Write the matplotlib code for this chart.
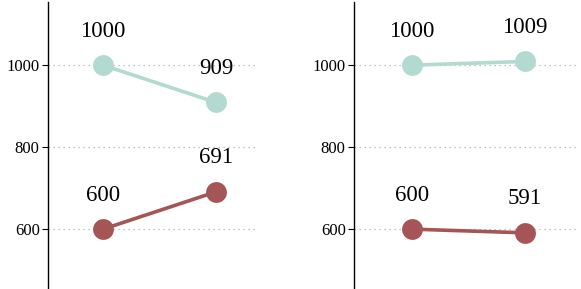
import matplotlib
matplotlib.use("Agg")
import matplotlib.pyplot as plt

plt.rcParams['font.family'] = ['Liberation Serif', 'DejaVu Serif']

positions = [0, 1]
left_top = [1000, 909]
left_bottom = [600, 691]
right_top = [1000, 1009]
right_bottom = [600, 591]
yticks = [600, 800, 1000]

teal = '#b3dad0'
red = '#a55555'

W, H = 581, 289
fig = plt.figure(figsize=(W / 100, H / 100), dpi=100)

def make_ax(x0, x1, xlim):
    ax = fig.add_axes([x0 / W, 0, (x1 - x0) / W, (H - 2) / H])
    ax.set_xlim(*xlim)
    ax.set_ylim(454, 1154)
    for s in ['top', 'right', 'bottom']:
        ax.spines[s].set_visible(False)
    ax.spines['left'].set_linewidth(1.0)
    ax.set_xticks([])
    ax.set_yticks(yticks)
    ax.tick_params(axis='y', labelsize=12, length=4, width=0.8, pad=2)
    ax.yaxis.grid(True, linestyle=(0, (1, 3)), color='#b0b0b0', linewidth=0.9)
    ax.set_axisbelow(True)
    return ax

panels = [
    (48, 258, (-0.487, 1.372), left_top, left_bottom),
    (354, 576, (-0.513, 1.451), right_top, right_bottom),
]

for x0, x1, xlim, top, bottom in panels:
    ax = make_ax(x0, x1, xlim)
    for vals, col in [(top, teal), (bottom, red)]:
        ax.plot(positions, vals, color=col, linewidth=2.6, marker='o',
                markersize=15, markeredgewidth=0, solid_capstyle='butt', zorder=3)
        for xp, v in zip(positions, vals):
            ax.annotate(str(v), (xp, v), xytext=(0, 24.5), textcoords='offset points',
                        ha='center', va='center', fontsize=16.5, color='black')

fig.savefig('out.png', dpi=100)
